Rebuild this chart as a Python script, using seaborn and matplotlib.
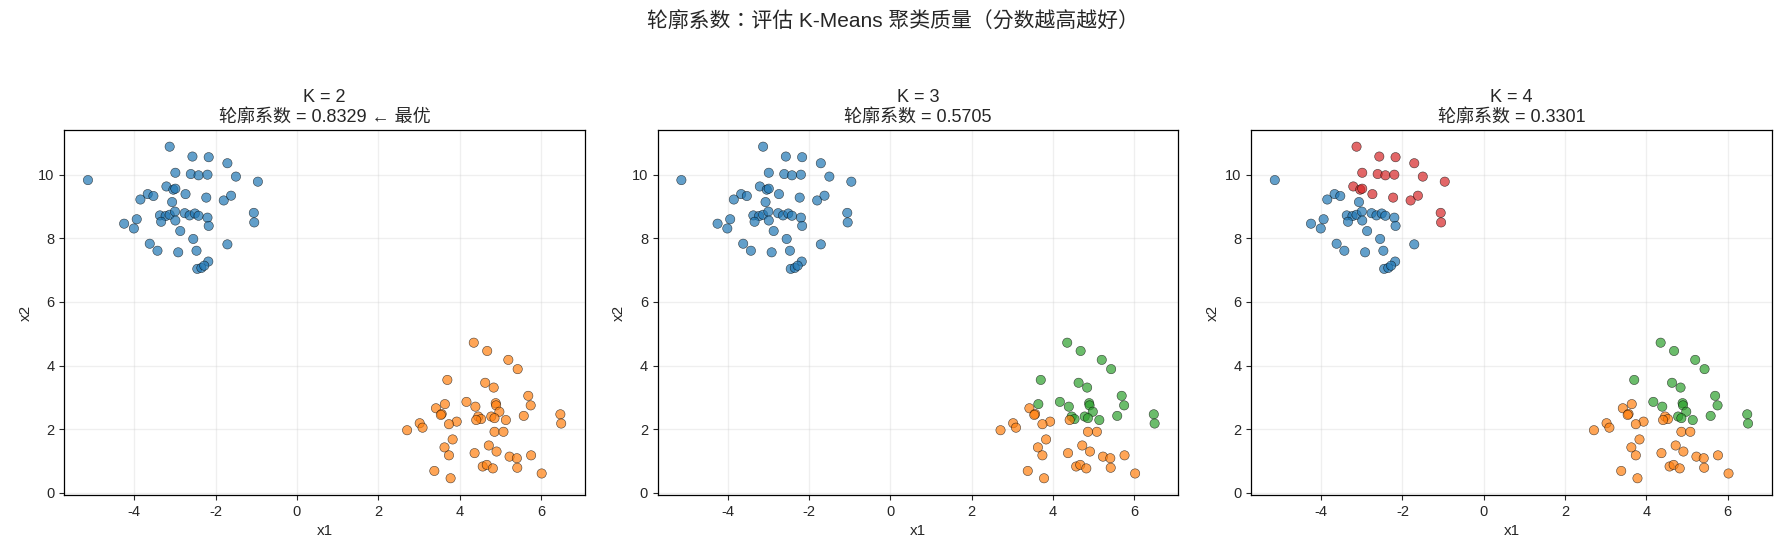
import pandas as pd
import seaborn as sns
import matplotlib.pyplot as plt

# points (two blobs of 50)
x1 = [
    -5.14, -3.13, -2.57, -2.17, -1.71, -1.50, -0.96, -2.99, -2.61, -2.42,
    -2.20, -3.21, -3.04, -2.99, -2.74, -3.67, -3.53, -3.85, -3.07, -2.23,
    -1.80, -1.62, -1.06, -1.05, -3.94, -4.25, -4.01, -3.37, -3.23, -3.13,
    -3.34, -3.00, -2.99, -2.76, -2.64, -2.51, -2.42, -2.20, -2.17, -2.87,
    -2.55, -3.62, -3.43, -2.92, -2.47, -1.71, -2.18, -2.45, -2.35, -2.28,
    4.35, 4.68, 5.20, 5.43, 3.70, 4.63, 4.84, 5.69, 5.75, 3.64,
    3.42, 3.56, 3.54, 4.17, 4.39, 4.89, 4.90, 4.98, 4.46, 4.53,
    4.41, 4.78, 4.86, 5.14, 5.58, 6.48, 6.50, 3.93, 3.74, 3.02,
    3.09, 2.71, 4.86, 5.08, 3.83, 3.63, 3.74, 4.72, 4.91, 4.37,
    5.23, 5.41, 5.76, 4.57, 4.67, 4.82, 5.42, 3.38, 3.78, 6.02,
]
x2 = [
    9.83, 10.88, 10.57, 10.55, 10.36, 9.94, 9.78, 10.06, 10.02, 9.98,
    10.00, 9.63, 9.53, 9.56, 9.39, 9.39, 9.33, 9.22, 9.14, 9.28,
    9.19, 9.34, 8.80, 8.50, 8.60, 8.46, 8.31, 8.72, 8.70, 8.74,
    8.52, 8.84, 8.56, 8.79, 8.72, 8.78, 8.71, 8.65, 8.39, 8.23,
    7.98, 7.83, 7.61, 7.56, 7.61, 7.81, 7.27, 7.04, 7.07, 7.14,
    4.72, 4.46, 4.18, 3.89, 3.55, 3.46, 3.31, 3.05, 2.75, 2.79,
    2.66, 2.48, 2.45, 2.86, 2.71, 2.82, 2.75, 2.55, 2.40, 2.32,
    2.29, 2.40, 2.35, 2.29, 2.42, 2.47, 2.18, 2.24, 2.16, 2.19,
    2.05, 1.97, 1.92, 1.92, 1.68, 1.43, 1.18, 1.49, 1.30, 1.25,
    1.14, 1.09, 1.18, 0.83, 0.88, 0.77, 0.79, 0.69, 0.46, 0.61,
]

labels_k2 = [
    0, 0, 0, 0, 0, 0, 0, 0, 0, 0, 0, 0, 0, 0, 0, 0, 0, 0, 0, 0, 0, 0, 0, 0, 0,
    0, 0, 0, 0, 0, 0, 0, 0, 0, 0, 0, 0, 0, 0, 0, 0, 0, 0, 0, 0, 0, 0, 0, 0, 0,
    1, 1, 1, 1, 1, 1, 1, 1, 1, 1, 1, 1, 1, 1, 1, 1, 1, 1, 1, 1, 1, 1, 1, 1, 1,
    1, 1, 1, 1, 1, 1, 1, 1, 1, 1, 1, 1, 1, 1, 1, 1, 1, 1, 1, 1, 1, 1, 1, 1, 1,
]
labels_k3 = [
    0, 0, 0, 0, 0, 0, 0, 0, 0, 0, 0, 0, 0, 0, 0, 0, 0, 0, 0, 0, 0, 0, 0, 0, 0,
    0, 0, 0, 0, 0, 0, 0, 0, 0, 0, 0, 0, 0, 0, 0, 0, 0, 0, 0, 0, 0, 0, 0, 0, 0,
    2, 2, 2, 2, 2, 2, 2, 2, 2, 2, 1, 1, 1, 2, 2, 2, 2, 2, 2, 2, 1, 2, 2, 2, 2,
    2, 2, 1, 1, 1, 1, 1, 1, 1, 1, 1, 1, 1, 1, 1, 1, 1, 1, 1, 1, 1, 1, 1, 1, 1,
]
labels_k4 = [
    0, 3, 3, 3, 3, 3, 3, 3, 3, 3, 3, 3, 3, 3, 3, 0, 0, 0, 0, 3, 3, 3, 3, 3, 0,
    0, 0, 0, 0, 0, 0, 0, 0, 0, 0, 0, 0, 0, 0, 0, 0, 0, 0, 0, 0, 0, 0, 0, 0, 0,
    2, 2, 2, 2, 2, 2, 2, 2, 2, 1, 1, 1, 1, 2, 2, 2, 2, 2, 1, 1, 1, 2, 2, 2, 2,
    2, 2, 1, 1, 1, 1, 1, 1, 1, 1, 1, 1, 1, 1, 1, 1, 1, 1, 1, 1, 1, 1, 1, 1, 1,
]

k_values = [2, 3, 4]
scores = [0.8329, 0.5705, 0.3301]
best_k = 2

sns.set_theme(style="ticks")
plt.rcParams['font.family'] = ['Liberation Sans', 'Noto Sans CJK SC', 'DejaVu Sans']
plt.rcParams['axes.unicode_minus'] = False

df = pd.DataFrame({"x1": x1, "x2": x2, "K=2": labels_k2, "K=3": labels_k3, "K=4": labels_k4})

fig, axes = plt.subplots(1, 3, figsize=(17.86, 5.56), dpi=100)
plt.subplots_adjust(left=0.036, right=0.992, bottom=0.11, top=0.766, wspace=0.14)

tab10 = sns.color_palette("tab10")
for ax, k, score in zip(axes, k_values, scores):
    sns.scatterplot(
        data=df, x="x1", y="x2", hue=f"K={k}",
        palette=tab10[:k], hue_order=list(range(k)),
        s=45, alpha=0.7, edgecolor="black", linewidth=0.4,
        legend=False, ax=ax,
    )
    title = f"K = {k}\n轮廓系数 = {score:.4f}"
    if k == best_k:
        title += " ← 最优"
    ax.set_title(title, fontsize=13)
    ax.set_xlabel("x1", fontsize=11)
    ax.set_ylabel("x2", fontsize=11)
    ax.tick_params(labelsize=10.5, length=3.5, width=0.8)
    ax.grid(True, alpha=0.3)
    for sp in ax.spines.values():
        sp.set_color("black")
        sp.set_linewidth(0.9)

fig.suptitle("轮廓系数：评估 K-Means 聚类质量（分数越高越好）", fontsize=15, y=0.96, va="center",
             family=['Liberation Sans', 'Noto Sans CJK TC', 'DejaVu Sans'])
plt.savefig("out.png", dpi=100)
